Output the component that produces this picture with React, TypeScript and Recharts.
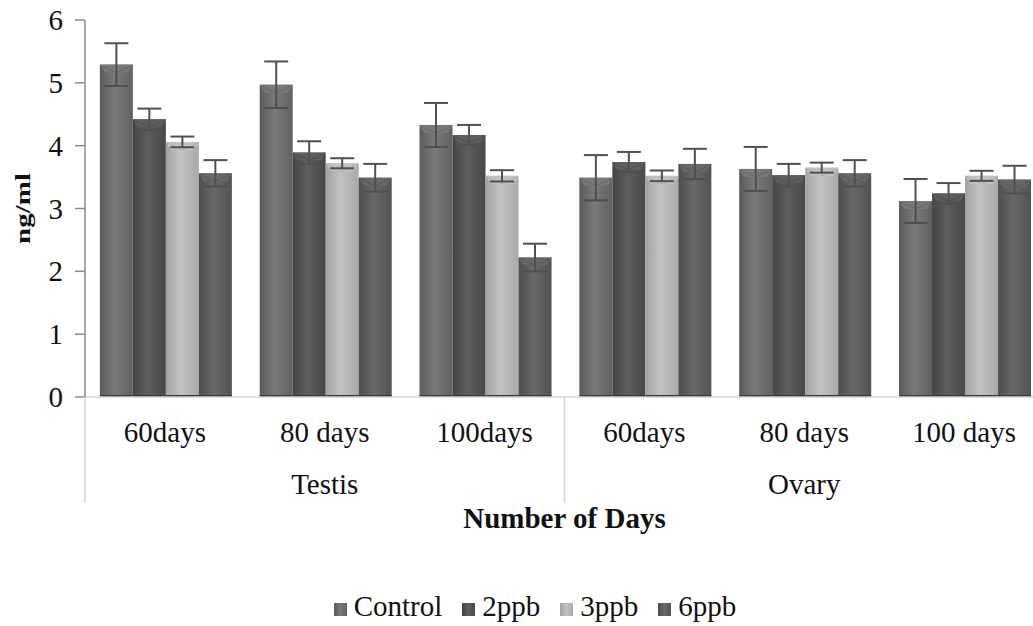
import React from 'react';
import { BarChart, Bar, XAxis, YAxis, ErrorBar, Legend } from 'recharts';

const categories = ['60days', '80 days', '100days', '60days', '80 days', '100 days'];
const groups = ['Testis', 'Testis', 'Testis', 'Ovary', 'Ovary', 'Ovary'];
const control = [5.29, 4.97, 4.33, 3.49, 3.63, 3.12];
const controlErr = [0.34, 0.37, 0.35, 0.36, 0.35, 0.35];
const ppb2 = [4.42, 3.89, 4.17, 3.74, 3.53, 3.24];
const ppb2Err = [0.17, 0.18, 0.16, 0.16, 0.18, 0.165];
const ppb3 = [4.06, 3.72, 3.52, 3.52, 3.65, 3.52];
const ppb3Err = [0.085, 0.08, 0.09, 0.085, 0.08, 0.08];
const ppb6 = [3.56, 3.49, 2.22, 3.71, 3.56, 3.46];
const ppb6Err = [0.21, 0.22, 0.22, 0.24, 0.21, 0.22];
const yTicks = [0, 1, 2, 3, 4, 5, 6];

const seriesNames = ['Control', '2ppb', '3ppb', '6ppb'];
const seriesKeys = ['control', 'ppb2', 'ppb3', 'ppb6'];
const seriesColors = [
  ['#5a5a5a', '#7a7a7a', '#616161'],
  ['#444444', '#5e5e5e', '#484848'],
  ['#a2a2a2', '#c2c2c2', '#a9a9a9'],
  ['#4e4e4e', '#686868', '#535353'],
];

const data = categories.map((c, i) => ({
  day: c,
  group: groups[i],
  control: control[i],
  controlErr: controlErr[i],
  ppb2: ppb2[i],
  ppb2Err: ppb2Err[i],
  ppb3: ppb3[i],
  ppb3Err: ppb3Err[i],
  ppb6: ppb6[i],
  ppb6Err: ppb6Err[i],
}));

const FONT = "'Liberation Serif', 'DejaVu Serif', serif";
const FS = 29;

const makeShape = (idx: number) => (props: any) => {
  const { x, y, width, height } = props;
  if (!width || !height) return null;
  const cols = seriesColors[idx];
  const cap = Math.min(8, height);
  return (
    <g>
      <rect x={x} y={y} width={width} height={height} fill={`url(#grad${idx})`} />
      <path
        d={`M${x},${y} L${x + width},${y} L${x + width - 5},${y + cap} L${x + 5},${y + cap} Z`}
        fill={cols[1]}
        opacity={0.9}
      />
      <path d={`M${x + 1},${y + 1} L${x + width / 2},${y + cap} L${x + width - 1},${y + 1}`} fill="none" stroke={cols[0]} strokeWidth={1} opacity={0.6} />
      <rect x={x} y={y + height - 2} width={width} height={2} fill="#3a3a3a" />
    </g>
  );
};

const XTick = (props: any) => {
  const { x, y, payload } = props;
  const idx = payload.index;
  const off = payload.offset ?? 0;
  return (
    <g>
      <text x={x} y={y + 45} textAnchor="middle" style={{ fontFamily: FONT, fontSize: FS }} fill="#111">
        {payload.value}
      </text>
      {(idx === 1 || idx === 4) && (
        <text x={x} y={y + 97} textAnchor="middle" style={{ fontFamily: FONT, fontSize: FS }} fill="#111">
          {groups[idx]}
        </text>
      )}
      {(idx === 0 || idx === 3) && (
        <line x1={x - off} x2={x - off} y1={y} y2={y + 106} stroke="#d4d4d4" strokeWidth={1.5} />
      )}
    </g>
  );
};

const YTick = (props: any) => {
  const { x, y, payload } = props;
  return (
    <text x={x} y={y + 10} textAnchor="end" style={{ fontFamily: FONT, fontSize: FS }} fill="#111">
      {payload.value}
    </text>
  );
};

const XLabel = (props: any) => {
  const { viewBox } = props;
  return (
    <text
      x={viewBox.x + viewBox.width / 2}
      y={viewBox.y + 131}
      textAnchor="middle"
      style={{ fontFamily: FONT, fontSize: FS, fontWeight: 'bold' }}
      fill="#111"
    >
      Number of Days
    </text>
  );
};

const YLabel = (props: any) => {
  const { viewBox } = props;
  const cx = 30;
  const cy = viewBox.y + viewBox.height / 2;
  return (
    <text
      x={0}
      y={0}
      transform={`translate(${cx}, ${cy}) rotate(-90) scale(1, 0.7)`}
      textAnchor="middle"
      style={{ fontFamily: FONT, fontSize: FS, fontWeight: 'bold' }}
      fill="#111"
    >
      ng/ml
    </text>
  );
};

const LegendContent = () => (
  <div style={{ display: 'flex', justifyContent: 'center', alignItems: 'baseline', fontFamily: FONT, fontSize: FS, color: '#111', lineHeight: '32px' }}>
    {seriesNames.map((n, i) => (
      <div key={n} style={{ display: 'flex', alignItems: 'baseline', marginRight: i < 3 ? 20 : 0 }}>
        <span
          style={{
            display: 'inline-block',
            width: 13,
            height: 13,
            marginRight: 7,
            background: `linear-gradient(to right, ${seriesColors[i][0]}, ${seriesColors[i][1]}, ${seriesColors[i][2]})`,
          }}
        />
        <span>{n}</span>
      </div>
    ))}
  </div>
);

export default function App() {
  return (
    <div style={{ position: 'absolute', left: 0, top: 0, width: 1033, height: 626, overflow: 'hidden', background: '#fff' }}>
      <BarChart
        width={1050}
        height={626}
        data={data}
        margin={{ top: 20, right: 6, left: 0, bottom: 89 }}
        barCategoryGap="9.3%"
        barGap={0}
      >
        <defs>
          {seriesColors.map((c, i) => (
            <linearGradient key={i} id={`grad${i}`} x1="0" y1="0" x2="1" y2="0">
              <stop offset="0%" stopColor={c[0]} />
              <stop offset="45%" stopColor={c[1]} />
              <stop offset="100%" stopColor={c[2]} />
            </linearGradient>
          ))}
        </defs>
        <XAxis
          dataKey="day"
          height={140}
          interval={0}
          tickLine={false}
          tickSize={0}
          tickMargin={0}
          axisLine={{ stroke: '#d4d4d4', strokeWidth: 1.5 }}
          tick={<XTick />}
          label={{ content: <XLabel /> } as any}
        />
        <YAxis
          width={85}
          domain={[0, 6]}
          ticks={yTicks}
          interval={0}
          tickSize={10}
          tickMargin={12}
          axisLine={{ stroke: '#8a8a8a', strokeWidth: 1.5 }}
          tickLine={{ stroke: '#8a8a8a', strokeWidth: 1.5 }}
          tick={<YTick />}
          label={{ content: <YLabel /> } as any}
        />
        <Legend
          layout="horizontal"
          verticalAlign="middle"
          align="center"
          content={<LegendContent />}
          wrapperStyle={{ position: 'absolute', top: 590, left: 0, width: 1070, height: 32 }}
        />
        {seriesKeys.map((k, i) => (
          <Bar key={k} dataKey={k} name={seriesNames[i]} fill={seriesColors[i][1]} shape={makeShape(i)} isAnimationActive={false}>
            <ErrorBar dataKey={`${k}Err`} width={12} stroke="#505050" strokeWidth={2} direction="y" />
          </Bar>
        ))}
      </BarChart>
    </div>
  );
}
